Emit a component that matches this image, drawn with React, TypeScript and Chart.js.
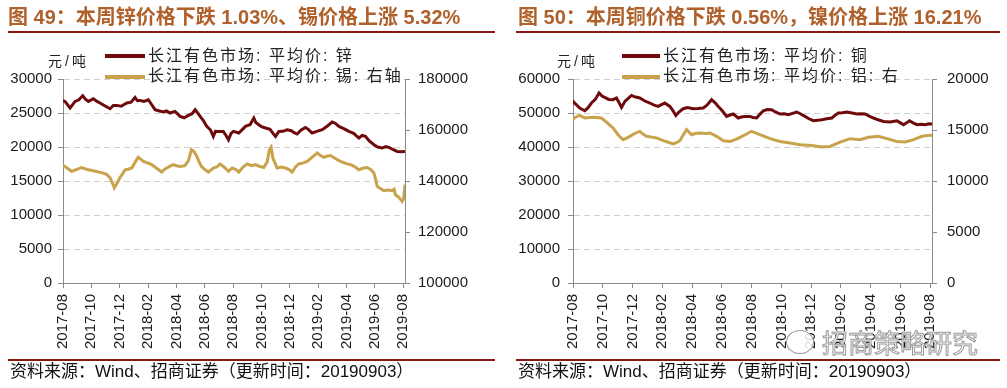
import React, { useEffect, useRef } from 'react';
import { Chart, registerables } from 'chart.js';

Chart.register(...registerables);

// ---------- data ----------
const xTickMonths = [0, 2, 4, 6, 8, 10, 12, 14, 16, 18, 20, 22, 24];
const xTickLabels = [
  '2017-08', '2017-10', '2017-12', '2018-02', '2018-04', '2018-06', '2018-08',
  '2018-10', '2018-12', '2019-02', '2019-04', '2019-06', '2019-08',
];
const xMaxMonth = 24.12;

type Pt = [number, number]; // [months since 2017-08, price]

const zinc: Pt[] = [
  [0, 26800], [0.14, 26700], [0.5, 25730], [0.85, 26700], [1.1, 26900], [1.39, 27540], [1.6, 27000],
  [1.79, 26700], [2.14, 27100], [2.4, 26700], [2.61, 26470], [3.0, 26000], [3.32, 25630], [3.55, 26100],
  [3.79, 26120], [4.1, 26000], [4.5, 26470], [4.8, 26600], [5.08, 27290], [5.25, 26800], [5.43, 26850],
  [5.7, 26700], [6.02, 26950], [6.2, 26400], [6.49, 25490], [6.8, 25300], [7.08, 25150], [7.3, 25300],
  [7.55, 25000], [7.9, 25240], [8.26, 24500], [8.55, 24300], [8.84, 24650], [9.1, 24900], [9.32, 25490],
  [9.5, 25000], [9.67, 24500], [9.9, 23900], [10.14, 23030], [10.4, 22500], [10.6, 21560], [10.75, 22300],
  [10.96, 22290], [11.31, 22290], [11.5, 21700], [11.67, 21070], [11.85, 22000], [12.02, 22290],
  [12.4, 22060], [12.87, 23030], [13.2, 23300], [13.46, 24260], [13.6, 23600], [13.81, 23280],
  [14.0, 23000], [14.28, 22790], [14.6, 22600], [14.85, 21900], [14.99, 21560], [15.22, 22290],
  [15.5, 22300], [15.81, 22540], [16.1, 22400], [16.3, 22100], [16.51, 21910], [16.8, 22500],
  [17.1, 22880], [17.3, 22600], [17.57, 22060], [17.9, 22300], [18.28, 22540], [18.6, 23000],
  [18.98, 23670], [19.2, 23500], [19.46, 23030], [19.8, 22700], [20.16, 22290], [20.5, 22000],
  [20.87, 21320], [21.1, 21700], [21.33, 21560], [21.6, 20900], [21.93, 20340], [22.2, 20000],
  [22.51, 19850], [22.75, 20050], [22.99, 19940], [23.3, 19600], [23.57, 19350], [23.85, 19300],
  [24.12, 19350],
];

const tin: Pt[] = [
  [0, 146000], [0.14, 145700], [0.61, 143800], [1.0, 144600], [1.31, 145300], [1.7, 144500],
  [2.14, 144000], [2.5, 143500], [2.84, 143100], [3.1, 142500], [3.32, 141200], [3.5, 139000],
  [3.62, 137300], [3.8, 139000], [4.0, 141200], [4.2, 142800], [4.38, 144400], [4.6, 144600],
  [4.85, 145100], [5.1, 147500], [5.31, 149300], [5.5, 148500], [5.67, 147700], [6.0, 147000],
  [6.26, 146400], [6.6, 145000], [6.97, 143500], [7.15, 144500], [7.32, 145100], [7.55, 145800],
  [7.78, 146400], [8.0, 146000], [8.26, 145700], [8.6, 146000], [8.85, 148000], [9.06, 152300],
  [9.25, 151500], [9.43, 149700], [9.6, 147500], [9.77, 145700], [10.0, 144500], [10.25, 143500],
  [10.6, 145100], [10.85, 145500], [11.08, 146700], [11.35, 145500], [11.67, 143800], [11.93, 145100],
  [12.2, 144500], [12.4, 143500], [12.7, 145500], [12.99, 146700], [13.3, 146000], [13.58, 146400],
  [13.85, 145800], [14.16, 145300], [14.4, 147500], [14.55, 152000], [14.68, 153200], [14.8, 149000],
  [14.9, 147700], [15.1, 145100], [15.4, 145500], [15.69, 145100], [15.95, 144500], [16.16, 143500],
  [16.4, 145500], [16.63, 146700], [16.9, 147000], [17.22, 147700], [17.6, 149500], [17.93, 151000],
  [18.15, 150000], [18.4, 149300], [18.65, 149800], [18.86, 150000], [19.15, 149000], [19.46, 148000],
  [19.75, 147300], [20.04, 146700], [20.3, 146400], [20.6, 145500], [20.87, 144400], [21.15, 145000],
  [21.45, 145300], [21.7, 144500], [21.93, 143100], [22.05, 140500], [22.16, 137900], [22.4, 137000],
  [22.63, 136200], [22.9, 136500], [23.22, 136200], [23.35, 136800], [23.45, 134600], [23.7, 133500],
  [23.92, 132000], [24.02, 133000], [24.12, 138600],
];

const copper: Pt[] = [
  [0, 53000], [0.05, 53230], [0.45, 51470], [0.79, 50670], [1.0, 51500], [1.24, 52940], [1.5, 54000],
  [1.75, 55880], [1.95, 55000], [2.13, 54590], [2.4, 54000], [2.69, 53910], [2.92, 54410], [3.1, 53000],
  [3.26, 51650], [3.5, 53500], [3.93, 55170], [4.2, 54700], [4.49, 54410], [4.8, 53600], [5.16, 52940],
  [5.45, 52300], [5.72, 51940], [6.17, 52940], [6.51, 51940], [6.7, 50800], [6.91, 49290], [7.1, 50200],
  [7.4, 51260], [7.7, 51600], [8.07, 51260], [8.4, 51300], [8.75, 51470], [9.0, 52300], [9.31, 53910],
  [9.55, 53000], [9.76, 51940], [10.0, 50800], [10.32, 49000], [10.55, 49400], [10.77, 49700],
  [11.1, 48530], [11.3, 48800], [11.55, 49000], [11.89, 49000], [12.1, 48700], [12.34, 48530],
  [12.55, 49600], [12.79, 50670], [13.05, 51000], [13.35, 50970], [13.6, 50300], [13.91, 49700],
  [14.2, 49800], [14.47, 49500], [14.75, 49900], [15.03, 50290], [15.3, 49700], [15.59, 49000],
  [15.85, 48300], [16.15, 47730], [16.45, 47900], [16.72, 48030], [17.05, 48300], [17.39, 48530],
  [17.6, 49300], [17.83, 50000], [18.1, 50100], [18.4, 50290], [18.75, 50000], [19.07, 49700],
  [19.35, 49800], [19.63, 49700], [19.9, 49100], [20.19, 48530], [20.5, 48000], [20.86, 47530],
  [21.31, 47350], [21.76, 47730], [22.0, 47100], [22.21, 46560], [22.41, 47100], [22.61, 47730],
  [22.85, 47100], [23.11, 46560], [23.4, 46700], [23.67, 46560], [23.9, 46800], [24.12, 46760],
];

const aluminum: Pt[] = [
  [0, 16100], [0.05, 16180], [0.45, 16430], [0.79, 16180], [1.35, 16240], [1.91, 16180], [2.25, 15780],
  [2.69, 15200], [3.03, 14540], [3.36, 14050], [3.6, 14200], [3.82, 14380], [4.2, 14700], [4.49, 14860],
  [4.7, 14600], [4.94, 14380], [5.3, 14300], [5.61, 14220], [6.06, 13950], [6.4, 13800], [6.73, 13630],
  [6.95, 13750], [7.18, 13950], [7.4, 14500], [7.63, 15030], [7.97, 14540], [8.2, 14650], [8.53, 14710],
  [8.9, 14650], [9.2, 14710], [9.65, 14380], [10.1, 13950], [10.55, 13880], [10.9, 14050], [11.22, 14280],
  [11.67, 14610], [11.89, 14800], [12.0, 14860], [12.56, 14540], [13.24, 14150], [13.91, 13880],
  [14.58, 13730], [15.26, 13560], [16.04, 13490], [16.72, 13330], [17.27, 13390], [17.95, 13820],
  [18.62, 14150], [19.29, 14050], [19.85, 14280], [20.52, 14380], [21.09, 14150], [21.76, 13880],
  [22.32, 13820], [22.88, 14050], [23.45, 14380], [23.8, 14450], [24.12, 14480],
];

// ---------- styles ----------
const DARK = '#6E0A0C';
const GOLD = '#C9A24C';
const AXIS = '#8a8a8a';
const GRID = '#cfcfcf';
const TITLE_COLOR = '#B0602A';
const RULE = '#8E1414';
const LATIN = "'Liberation Sans', Arial, 'Noto Sans CJK SC', sans-serif";

interface PanelProps {
  left: number;
  width: number;
  yLeftWidth: number;
  yRightWidth: number;
  s1: Pt[];
  s2: Pt[];
  label1: string;
  label2: string;
  yMax: number;
  yStep: number;
  y2Min: number;
  y2Max: number;
  y2Step: number;
  yPad: number;
  y2Pad: number;
}

const plain = (v: any) => String(v);

function PriceChart(p: PanelProps) {
  const ref = useRef<HTMLCanvasElement>(null);
  useEffect(() => {
    const font = { family: "'Liberation Sans', Arial, sans-serif", size: 15 };
    const chart = new Chart(ref.current as HTMLCanvasElement, {
      type: 'line',
      data: {
        datasets: [
          {
            label: p.label1,
            data: p.s1.map(([x, y]) => ({ x, y })),
            yAxisID: 'y',
            borderColor: DARK,
            backgroundColor: DARK,
            borderWidth: 3,
            pointRadius: 0,
            tension: 0,
          },
          {
            label: p.label2,
            data: p.s2.map(([x, y]) => ({ x, y })),
            yAxisID: 'y2',
            borderColor: GOLD,
            backgroundColor: GOLD,
            borderWidth: 3,
            pointRadius: 0,
            tension: 0,
          },
        ],
      },
      options: {
        animation: false,
        responsive: false,
        maintainAspectRatio: false,
        layout: { padding: { left: 0, right: 0, top: 79, bottom: 35 } },
        plugins: { legend: { display: false }, tooltip: { enabled: false } },
        scales: {
          x: {
            type: 'linear',
            min: 0,
            max: xMaxMonth,
            afterBuildTicks: (s: any) => {
              s.ticks = xTickMonths.map((v) => ({ value: v }));
            },
            afterFit: (s: any) => {
              s.height = 70;
            },
            ticks: {
              autoSkip: false,
              minRotation: 90,
              maxRotation: 90,
              padding: 6,
              color: '#1a1a1a',
              font,
              callback: (v: any) => xTickLabels[xTickMonths.indexOf(Number(v))] ?? '',
            },
            grid: { drawOnChartArea: false, drawTicks: true, tickLength: 5, tickColor: AXIS },
            border: { display: true, color: AXIS, width: 1 },
          },
          y: {
            position: 'left',
            min: 0,
            max: p.yMax,
            afterFit: (s: any) => {
              s.width = p.yLeftWidth;
            },
            ticks: { stepSize: p.yStep, padding: p.yPad, color: '#1a1a1a', font, callback: plain },
            grid: { color: GRID, lineWidth: 1, tickLength: 5, tickColor: AXIS, tickBorderDash: [] },
            border: { display: true, color: AXIS, width: 1, dash: [6, 4] },
          },
          y2: {
            position: 'right',
            min: p.y2Min,
            max: p.y2Max,
            afterFit: (s: any) => {
              s.width = p.yRightWidth;
            },
            ticks: { stepSize: p.y2Step, padding: p.y2Pad, color: '#1a1a1a', font, callback: plain },
            grid: { drawOnChartArea: false, tickLength: 5, tickColor: AXIS },
            border: { display: true, color: AXIS, width: 1 },
          },
        },
      } as any,
    });
    return () => chart.destroy();
  }, []);
  return (
    <canvas
      ref={ref}
      width={p.width}
      height={388}
      style={{ position: 'absolute', left: p.left, top: 0, width: p.width, height: 388 }}
    />
  );
}

const abs = (s: React.CSSProperties): React.CSSProperties => ({ position: 'absolute', whiteSpace: 'nowrap', ...s });

function Legend({ x, lineX, items }: { x: number; lineX: number; items: [string, string][] }) {
  return (
    <>
      {items.map(([text, color], i) => (
        <React.Fragment key={i}>
          <div style={abs({ left: lineX, top: 54 + i * 21, width: x - lineX - 3, height: 4, background: color })} />
          <div
            style={abs({
              left: x,
              top: 46 + i * 20,
              fontSize: 16,
              lineHeight: '20px',
              letterSpacing: '2px',
              color: '#222',
              fontFamily: LATIN,
            })}
          >
            {text}
          </div>
        </React.Fragment>
      ))}
    </>
  );
}

export default function App() {
  useEffect(() => {
    document.body.style.margin = '0';
  }, []);
  const titleStyle = (left: number) =>
    abs({ left, top: 5, fontSize: 20, lineHeight: '24px', fontWeight: 'bold', color: TITLE_COLOR, fontFamily: LATIN });
  const srcStyle = (left: number) =>
    abs({ left, top: 361, fontSize: 17, lineHeight: '21px', color: '#111', fontFamily: LATIN });
  const unitStyle = (left: number) =>
    abs({ left, top: 52, fontSize: 14, lineHeight: '19px', letterSpacing: '3px', color: '#222', fontFamily: LATIN });
  return (
    <div style={{ position: 'fixed', left: 0, top: 0, width: 1007, height: 388, background: '#fff', overflow: 'hidden' }}>
      <PriceChart
        left={0}
        width={510}
        yLeftWidth={63}
        yRightWidth={105}
        s1={zinc}
        s2={tin}
        label1="长江有色市场: 平均价: 锌"
        label2="长江有色市场: 平均价: 锡: 右轴"
        yMax={30000}
        yStep={5000}
        y2Min={100000}
        y2Max={180000}
        y2Step={20000}
        yPad={6}
        y2Pad={8}
      />
      <PriceChart
        left={510}
        width={497}
        yLeftWidth={63}
        yRightWidth={75}
        s1={copper}
        s2={aluminum}
        label1="长江有色市场: 平均价: 铜"
        label2="长江有色市场: 平均价: 铝: 右"
        yMax={60000}
        yStep={10000}
        y2Min={0}
        y2Max={20000}
        y2Step={5000}
        yPad={8}
        y2Pad={10}
      />

      <div style={titleStyle(8)}>图 49：本周锌价格下跌 1.03%、锡价格上涨 5.32%</div>
      <div style={titleStyle(518)}>图 50：本周铜价格下跌 0.56%，镍价格上涨 16.21%</div>
      <div style={abs({ left: 8, top: 31, width: 487, height: 2, background: RULE })} />
      <div style={abs({ left: 516, top: 31, width: 484, height: 2, background: RULE })} />

      <div style={unitStyle(48)}>元/吨</div>
      <div style={unitStyle(557)}>元/吨</div>
      <Legend
        x={148}
        lineX={105}
        items={[
          ['长江有色市场: 平均价: 锌', DARK],
          ['长江有色市场: 平均价: 锡: 右轴', GOLD],
        ]}
      />
      <Legend
        x={663}
        lineX={622}
        items={[
          ['长江有色市场: 平均价: 铜', DARK],
          ['长江有色市场: 平均价: 铝: 右', GOLD],
        ]}
      />

      <div
        style={abs({
          left: 822,
          top: 326,
          fontSize: 26,
          lineHeight: '32px',
          color: 'rgba(255,255,255,0.85)',
          WebkitTextStroke: '1px #9a9a9a',
          fontFamily: "'Noto Sans CJK SC', sans-serif",
        } as any)}
      >
        招商策略研究
      </div>
      <div
        style={abs({
          left: 786,
          top: 330,
          width: 26,
          height: 22,
          borderRadius: '50%',
          border: '1.5px solid #9a9a9a',
          background: 'rgba(255,255,255,0.85)',
        })}
      />

      <div style={abs({ left: 8, top: 359, width: 487, height: 2, background: RULE })} />
      <div style={abs({ left: 516, top: 359, width: 484, height: 2, background: RULE })} />
      <div style={srcStyle(10)}>资料来源：Wind、招商证券（更新时间：20190903）</div>
      <div style={srcStyle(518)}>资料来源：Wind、招商证券（更新时间：20190903）</div>
    </div>
  );
}
